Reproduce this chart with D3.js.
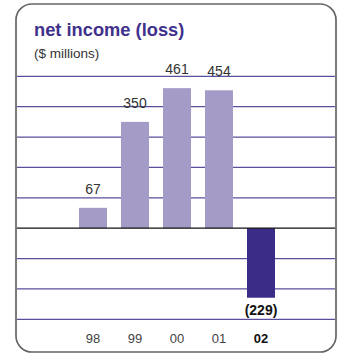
<!DOCTYPE html>
<html>
<head>
<meta charset="utf-8">
<script src="https://cdn.jsdelivr.net/npm/d3@7"></script>
<style>
  body { margin: 0; background: #fff; }
  svg text { font-family: "Liberation Sans", Arial, Helvetica, sans-serif; }
</style>
</head>
<body>
<div class="chartBox"></div>
<script>
var years = ['98', '99', '00', '01', '02'];
var netIncome = [67, 350, 461, 454, -229];
var valueLabels = ['67', '350', '461', '454', '(229)'];
var gridTicks = [-300, -200, -100, 100, 200, 300, 400, 500];

var svg = d3.select('.chartBox')
    .append('svg')
    .attr('width', 344)
    .attr('height', 354);

// frame with rounded corners
svg.append('rect')
    .attr('x', 16)
    .attr('y', 4)
    .attr('width', 320)
    .attr('height', 348)
    .attr('rx', 16)
    .attr('fill', '#fff')
    .attr('stroke', '#666')
    .attr('stroke-width', 1.7);

var x = d3.scaleBand()
    .domain(years)
    .range([65, 289])
    .paddingInner(1 / 3)
    .paddingOuter(1 / 3);

var y = d3.scaleLinear()
    .domain([-300, 500])
    .range([319.3, 76.3]);

// horizontal grid
svg.selectAll('.grid')
    .data(gridTicks)
    .enter().append('line')
    .attr('class', 'grid')
    .attr('x1', 17)
    .attr('x2', 335)
    .attr('y1', d => y(d))
    .attr('y2', d => y(d))
    .attr('stroke', '#5a4f9c')
    .attr('stroke-width', 1.2);

var data = years.map((yr, i) => ({ year: yr, value: netIncome[i], label: valueLabels[i] }));

svg.selectAll('.bar')
    .data(data)
    .enter().append('rect')
    .attr('class', 'bar')
    .attr('x', d => x(d.year))
    .attr('width', x.bandwidth())
    .attr('y', d => y(Math.max(0, d.value)))
    .attr('height', d => Math.abs(y(d.value) - y(0)))
    .attr('fill', d => d.value < 0 ? '#3a2c87' : '#a59bc7');

// zero line
svg.append('line')
    .attr('x1', 17)
    .attr('x2', 335)
    .attr('y1', y(0))
    .attr('y2', y(0))
    .attr('stroke', '#111')
    .attr('stroke-width', 1.3);

svg.selectAll('.val')
    .data(data)
    .enter().append('text')
    .attr('class', 'val')
    .attr('x', d => x(d.year) + x.bandwidth() / 2)
    .attr('y', d => d.value < 0 ? y(d.value) + 17 : y(d.value) - 14)
    .attr('text-anchor', 'middle')
    .attr('font-size', '14px')
    .attr('font-weight', d => d.value < 0 ? 'bold' : 'normal')
    .attr('fill', d => d.value < 0 ? '#111' : '#333')
    .text(d => d.label);

svg.selectAll('.yr')
    .data(data)
    .enter().append('text')
    .attr('class', 'yr')
    .attr('x', d => x(d.year) + x.bandwidth() / 2)
    .attr('y', 343)
    .attr('text-anchor', 'middle')
    .attr('font-size', '13px')
    .attr('font-weight', (d, i) => i === years.length - 1 ? 'bold' : 'normal')
    .attr('fill', (d, i) => i === years.length - 1 ? '#111' : '#444')
    .text(d => d.year);

svg.append('text')
    .attr('x', 34)
    .attr('y', 36)
    .attr('font-size', '18.3px')
    .attr('font-weight', 'bold')
    .attr('fill', '#3f318c')
    .text('net income (loss)');

svg.append('text')
    .attr('x', 34)
    .attr('y', 58)
    .attr('font-size', '13.5px')
    .attr('fill', '#333')
    .text('($ millions)');
</script>
</body>
</html>
